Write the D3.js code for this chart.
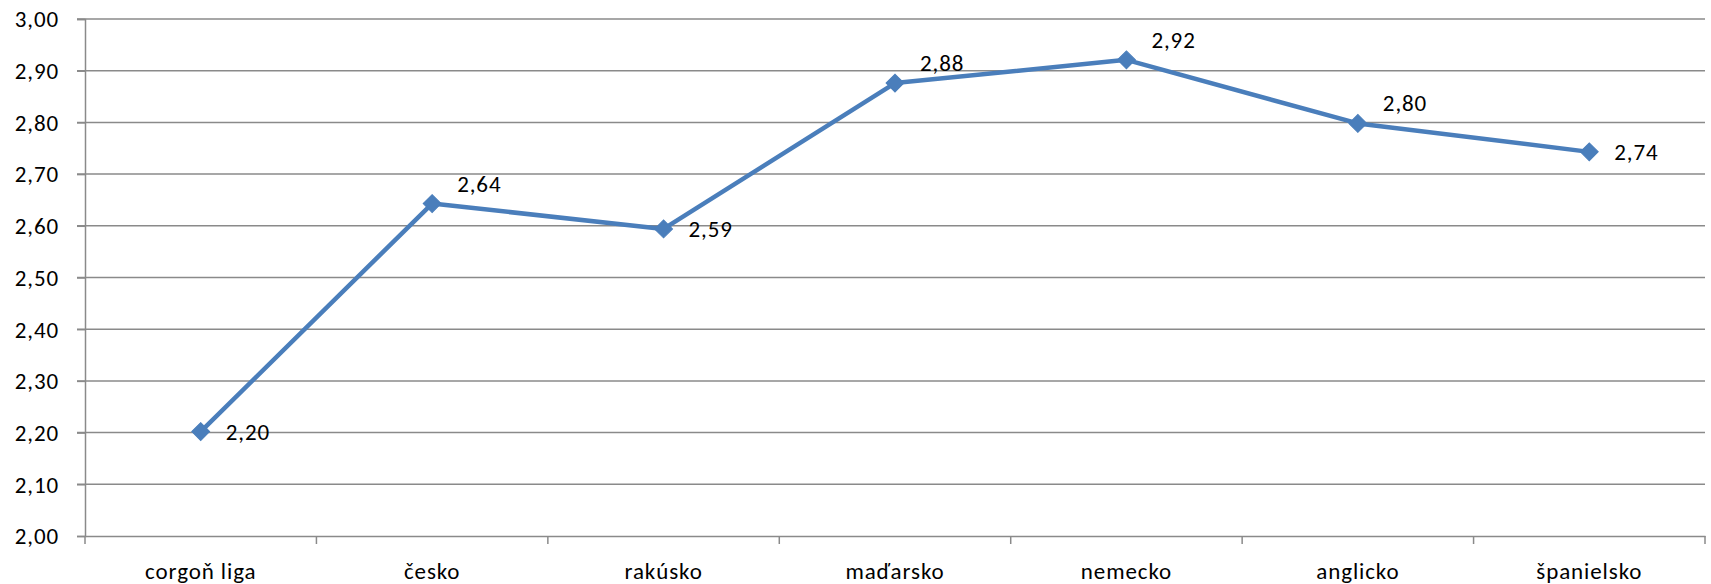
<!DOCTYPE html>
<html>
<head>
<meta charset="utf-8">
<script src="https://cdn.jsdelivr.net/npm/d3@7"></script>
<style>
  body { margin: 0; background: #fff; }
  text { font-family: Calibri, Carlito, "Open Sans", sans-serif; fill: #000; letter-spacing: 0.9px; }
</style>
</head>
<body>
<div id="chart"></div>
<script>
const categories = ["corgoň liga", "česko", "rakúsko", "maďarsko", "nemecko", "anglicko", "španielsko"];
const values = [2.202, 2.643, 2.594, 2.876, 2.921, 2.798, 2.743];
const labelPlacement = ["right", "above", "right", "above", "above", "above", "right"];
const yTicks = [2.0, 2.1, 2.2, 2.3, 2.4, 2.5, 2.6, 2.7, 2.8, 2.9, 3.0];

const W = 1711, H = 584;
const margin = { top: 19, right: 6, bottom: 48, left: 85 };
const width = W - margin.left - margin.right, height = H - margin.top - margin.bottom;
const fmt = v => d3.format(".2f")(v).replace(".", ",");

const svg = d3.select("#chart").append("svg")
    .attr("width", W)
    .attr("height", H)
    .append("g")
    .attr("transform", `translate(${margin.left},${margin.top})`);

const xScale = d3.scaleBand().domain(categories).range([0, width]);
const yScale = d3.scaleLinear().domain([2.0, 3.0]).range([height, 0]);

// gridlines
svg.append("g")
    .selectAll("line")
    .data(yTicks.slice(1))
    .enter()
    .append("line")
    .attr("x1", -8).attr("x2", width)
    .attr("y1", d => yScale(d)).attr("y2", d => yScale(d))
    .attr("stroke", "#8a8a8a")
    .attr("stroke-width", 1.5);

// y axis
const yAxis = svg.append("g")
    .call(d3.axisLeft(yScale).tickValues(yTicks).tickFormat(fmt).tickSize(8).tickPadding(18));
yAxis.select(".domain").attr("stroke", "#8a8a8a").attr("stroke-width", 1.5);
yAxis.selectAll(".tick line").attr("stroke", "#8a8a8a").attr("stroke-width", 1.5);
yAxis.selectAll("text").style("font-size", "23px").attr("dy", "0.34em");

// x axis (ticks between categories)
const xAxis = svg.append("g")
    .attr("transform", `translate(0,${height})`)
    .call(d3.axisBottom(xScale).tickSize(0).tickPadding(27));
xAxis.select(".domain").attr("stroke", "#8a8a8a").attr("stroke-width", 1.5);
xAxis.selectAll("text").style("font-size", "23px");
xAxis.selectAll(".sep")
    .data(d3.range(categories.length + 1))
    .enter()
    .append("line")
    .attr("class", "sep")
    .attr("x1", i => i * xScale.bandwidth()).attr("x2", i => i * xScale.bandwidth())
    .attr("y1", 0).attr("y2", 8)
    .attr("stroke", "#8a8a8a")
    .attr("stroke-width", 1.5);

const cx = (d, i) => xScale(categories[i]) + xScale.bandwidth() / 2;

// line
const line = d3.line()
    .x((d, i) => cx(d, i))
    .y(d => yScale(d));

svg.append("path")
    .datum(values)
    .attr("d", line)
    .attr("fill", "none")
    .attr("stroke", "#4a7ebb")
    .attr("stroke-width", 4.5)
    .attr("stroke-linejoin", "round");

// markers
svg.selectAll(".marker")
    .data(values)
    .enter()
    .append("path")
    .attr("class", "marker")
    .attr("d", d3.symbol().type(d3.symbolSquare).size(160))
    .attr("transform", (d, i) => `translate(${cx(d, i)},${yScale(d)}) rotate(45)`)
    .attr("fill", "#4a7ebb")
    .attr("stroke", "#4a7ebb")
    .attr("stroke-width", 1);

// data labels
svg.selectAll(".lbl")
    .data(values)
    .enter()
    .append("text")
    .attr("class", "lbl")
    .attr("x", (d, i) => cx(d, i) + 25)
    .attr("y", (d, i) => labelPlacement[i] === "above" ? yScale(d) - 12 : yScale(d))
    .attr("dy", (d, i) => labelPlacement[i] === "above" ? "0" : "0.36em")
    .style("font-size", "23px")
    .text(d => fmt(d));
</script>
</body>
</html>
